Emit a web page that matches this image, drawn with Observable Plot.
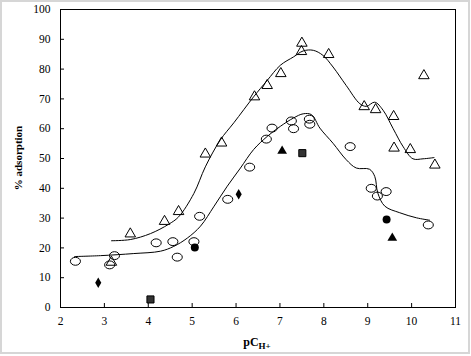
<!DOCTYPE html>
<html>
<head>
<meta charset="utf-8">
<script src="https://cdn.jsdelivr.net/npm/d3@7"></script>
<script src="https://cdn.jsdelivr.net/npm/@observablehq/plot@0.6"></script>
<style>
  html, body { margin: 0; padding: 0; background: #fff; }
  #chart svg { display: block; }
</style>
</head>
<body>
<div id="chart"></div>
<script>
// Open triangles
const triX = [3.16, 3.59, 4.37, 4.69, 5.30, 5.67, 6.42, 6.71, 7.02, 7.50, 7.49, 8.11, 8.92, 9.18, 9.59, 9.60, 9.97, 10.28, 10.53];
const triY = [15.2, 24.7, 28.9, 32.2, 51.5, 55.2, 70.7, 74.5, 78.5, 88.7, 85.9, 84.9, 67.4, 66.4, 64.1, 53.5, 53.0, 77.8, 47.8];
// Open circles
const cirX = [2.34, 3.12, 3.23, 4.18, 4.56, 4.66, 5.04, 5.17, 5.81, 6.31, 6.69, 6.82, 7.26, 7.31, 7.67, 7.68, 8.60, 9.08, 9.22, 9.42, 10.38];
const cirY = [15.5, 14.3, 17.4, 21.7, 22.1, 16.9, 22.1, 30.6, 36.3, 47.1, 56.5, 60.2, 62.6, 60.0, 63.2, 61.5, 54.0, 40.0, 37.4, 38.9, 27.7];
// Filled markers
const fCirX = [5.06, 9.43];   const fCirY = [20.1, 29.5];
const fTriX = [7.05, 9.56];   const fTriY = [52.5, 23.3];
const fDiaX = [2.86, 6.06];   const fDiaY = [8.3, 38.0];
const fSqX  = [4.05, 7.51];   const fSqY  = [2.7, 51.8];
// Fitted curves
const upX = [3.16, 3.59, 4.05, 4.46, 4.69, 5.04, 5.30, 5.64, 5.95, 6.40, 6.71, 7.01, 7.31, 7.53, 7.76, 7.98, 8.21, 8.51, 8.82, 8.97, 9.16, 9.35, 9.58, 9.81, 10.03, 10.26, 10.51];
const upY = [22.4, 22.8, 24.8, 27.9, 30.4, 38.3, 47.2, 56.2, 62.0, 70.7, 76.2, 81.3, 84.1, 86.1, 86.3, 84.6, 80.7, 74.5, 68.4, 67.5, 68.9, 66.2, 60.0, 53.9, 49.9, 49.9, 50.3];
const loX = [2.32, 2.91, 3.67, 4.28, 4.58, 4.89, 5.19, 5.50, 5.80, 6.10, 6.40, 6.71, 7.01, 7.31, 7.53, 7.72, 7.91, 8.21, 8.51, 8.74, 9.04, 9.16, 9.23, 9.39, 9.73, 10.11, 10.41];
const loY = [17.1, 17.4, 18.1, 18.9, 20.5, 23.3, 27.3, 34.0, 40.7, 46.8, 53.0, 57.4, 60.8, 63.6, 65.0, 64.7, 60.2, 55.1, 49.6, 46.8, 46.4, 44.0, 38.4, 34.0, 31.8, 30.1, 29.3];
const xTicks = [2, 3, 4, 5, 6, 7, 8, 9, 10, 11];
const yTicks = [0, 10, 20, 30, 40, 50, 60, 70, 80, 90, 100];

const pts = (xs, ys) => xs.map((x, i) => ({x, y: ys[i]}));

// ellipse symbol (slightly wider than tall)
const ellipse = {
  draw(ctx, size) {
    const r = Math.sqrt(size / Math.PI);
    const rx = r * 1.12, ry = r * 0.88, k = 0.5523;
    ctx.moveTo(rx, 0);
    ctx.bezierCurveTo(rx, ry * k, rx * k, ry, 0, ry);
    ctx.bezierCurveTo(-rx * k, ry, -rx, ry * k, -rx, 0);
    ctx.bezierCurveTo(-rx, -ry * k, -rx * k, -ry, 0, -ry);
    ctx.bezierCurveTo(rx * k, -ry, rx, -ry * k, rx, 0);
    ctx.closePath();
  }
};

const chart = Plot.plot({
  width: 471,
  height: 356,
  marginLeft: 60,
  marginRight: 16,
  marginTop: 9,
  marginBottom: 49,
  style: {fontFamily: "'Liberation Serif', 'Times New Roman', serif", fontSize: "11.5px", color: "black", background: "white"},
  x: {domain: [2, 11]},
  y: {domain: [0, 100]},
  marks: [
    Plot.frame({stroke: "black", strokeWidth: 1}),
    Plot.axisX({ticks: xTicks, tickSize: -4, text: null, label: null}),
    Plot.axisX({ticks: xTicks, tickSize: 0, tickPadding: 9, label: null, fill: "black"}),
    Plot.axisY({ticks: yTicks, tickSize: -4, text: null, label: null}),
    Plot.axisY({ticks: yTicks, tickSize: 0, tickPadding: 10, label: null, fill: "black"}),
    Plot.line(pts(upX, upY), {x: "x", y: "y", curve: "catmull-rom", stroke: "black", strokeWidth: 1}),
    Plot.line(pts(loX, loY), {x: "x", y: "y", curve: "catmull-rom", stroke: "black", strokeWidth: 1}),
    Plot.dot(pts(triX, triY), {x: "x", y: "y", symbol: "triangle", r: 3.9, stroke: "black", strokeWidth: 1, fill: "white", fillOpacity: 0}),
    Plot.dot(pts(cirX, cirY), {x: "x", y: "y", symbol: ellipse, r: 4.5, stroke: "black", strokeWidth: 1, fill: "none"}),
    Plot.dot(pts(fCirX, fCirY), {x: "x", y: "y", symbol: "circle", r: 4, fill: "black", stroke: "none"}),
    Plot.dot(pts(fTriX, fTriY), {x: "x", y: "y", symbol: "triangle", r: 3.6, fill: "black", stroke: "none"}),
    Plot.dot(pts(fDiaX, fDiaY), {x: "x", y: "y", symbol: "diamond", r: 3.2, fill: "black", stroke: "none"}),
    Plot.dot(pts(fSqX, fSqY), {x: "x", y: "y", symbol: "square", r: 4, fill: "#333", stroke: "black", strokeWidth: 1})
  ]
});

document.getElementById("chart").appendChild(chart);

const svg = d3.select(chart);
svg.append("rect")
  .attr("x", 1).attr("y", 1).attr("width", 468).attr("height", 352)
  .attr("fill", "none").attr("stroke", "#d6d6d6").attr("stroke-width", 2);

svg.append("text")
  .attr("transform", "translate(22,158) rotate(-90)")
  .attr("text-anchor", "middle")
  .attr("font-weight", "bold")
  .attr("font-size", "11px")
  .attr("fill", "black")
  .text("% adsorption");

const xl = svg.append("text")
  .attr("x", 257).attr("y", 346)
  .attr("text-anchor", "middle")
  .attr("font-weight", "bold")
  .attr("font-size", "12px")
  .attr("fill", "black");
xl.append("tspan").text("pC");
xl.append("tspan").attr("font-size", "9px").attr("dy", "3").text("H+");
</script>
</body>
</html>
